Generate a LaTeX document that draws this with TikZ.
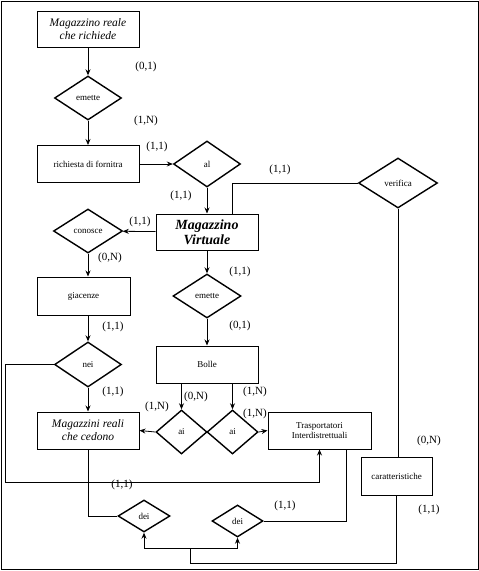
\documentclass[tikz,border=0pt]{standalone}
\usepackage{fontspec}
\setmainfont{Liberation Serif}
\usetikzlibrary{shapes.geometric,arrows.meta}

\begin{document}
\begin{tikzpicture}[x=1pt,y=-1pt,line width=0.8pt,
    >={Stealth[length=6pt,width=5pt]},
    ent/.style={draw,line width=1pt,inner sep=1pt,align=center,
        minimum width=102pt,minimum height=37pt,font=\fontsize{9}{10.5}\selectfont},
    entit/.style={ent,font=\fontsize{11.5}{13}\selectfont\itshape},
    rel/.style={draw,diamond,line width=1.4pt,inner sep=0pt,
        minimum width=67pt,minimum height=44pt,font=\fontsize{9}{10}\selectfont},
    card/.style={inner sep=0pt,font=\fontsize{11}{12}\selectfont}]

    \useasboundingbox (0,0) rectangle (479,571);
    \draw (1,1) rectangle (478,569);

    % Entita
    \node[entit,minimum height=36pt] (richiede) at (88,29) {Magazzino reale\\che richiede};
    \node[ent] (richiesta) at (88,164) {richiesta di fornitra};
    \node[ent,minimum height=36pt,font=\fontsize{14}{15}\selectfont\bfseries\itshape] (virtuale) at (207,232) {Magazzino\\Virtuale};
    \node[ent,minimum width=93pt,minimum height=38pt] (giacenze) at (83.5,296) {giacenze};
    \node[ent] (bolle) at (207,364.5) {Bolle};
    \node[entit] (cedono) at (88,430.5) {Magazzini reali\\che cedono};
    \node[ent,minimum width=103pt] (trasp) at (319.5,430.5) {Trasportatori\\Interdistrettuali};
    \node[ent,minimum width=71pt,minimum height=38pt] (caratt) at (396.5,476) {caratteristiche};

    % Relazioni
    \node[rel] (emette1) at (88,98) {emette};
    \node[rel,minimum height=46pt] (al) at (207,164) {al};
    \node[rel,minimum width=79pt,minimum height=50pt] (verifica) at (398,183) {verifica};
    \node[rel,minimum width=69pt] (conosce) at (88,231) {conosce};
    \node[rel,minimum width=68pt] (emette2) at (207,296) {emette};
    \node[rel,minimum height=45pt] (nei) at (88,364.5) {nei};
    \node[rel,minimum width=51pt] (ai1) at (181.5,432) {ai};
    \node[rel,minimum width=51pt] (ai2) at (232.5,432) {ai};
    \node[rel,minimum width=52pt,minimum height=32pt] (dei1) at (144,516) {dei};
    \node[rel,minimum width=51pt,minimum height=32pt] (dei2) at (237.5,521) {dei};

    % Punti di giunzione
    \coordinate (giro) at (5,482);
    \coordinate (fondo) at (190,563);
    \coordinate (bivio) at (190,548);

    % Collegamenti
    \draw[->] (richiede) -- (emette1);
    \draw[->] (emette1) -- (richiesta);
    \draw[->] (richiesta) -- (al);
    \draw[->] (al) -- (virtuale);
    \draw ([xshift=-26pt]virtuale.north east) |- (verifica.west);
    \draw (verifica.south) -- (verifica.south |- caratt.north);
    \draw[->] (virtuale) -- (conosce);
    \draw[->] (conosce.south) -- (conosce.south |- giacenze.north);
    \draw[->] (nei.north |- giacenze.south) -- (nei.north);
    \draw[->] (virtuale) -- (emette2);
    \draw[->] (emette2) -- (bolle);
    \draw[->] (ai1.north |- bolle.south) -- (ai1.north);
    \draw[->] (ai2.north |- bolle.south) -- (ai2.north);
    \draw[->] (ai1.west) -- (cedono.east);
    \draw[->] (ai2.east) -- (trasp.west);
    \draw[->] (nei) -- (cedono);
    \draw[->] (nei.west) -| (giro) -| (trasp.south);
    \draw (cedono.south) |- (dei1.west);
    \draw (dei2.east) -| ([xshift=27pt]trasp.south);
    \draw (caratt.south) |- (fondo) -- (bivio);
    \draw[->] (bivio) -| (dei1.south);
    \draw[->] (bivio) -| (dei2.south);

    % Cardinalita
    \node[card] (k1) at (146,67) {(0,1)};
    \node[card] (k2) at (146,121) {(1,N)};
    \node[card] (k3) at (157,147) {(1,1)};
    \node[card] (k4) at (181,196) {(1,1)};
    \node[card] (k5) at (280,170) {(1,1)};
    \node[card] (k6) at (140,222) {(1,1)};
    \node[card] (k7) at (110,258) {(0,N)};
    \node[card] (k8) at (240,272) {(1,1)};
    \node[card] (k9) at (113,327) {(1,1)};
    \node[card] (k10) at (240,326) {(0,1)};
    \node[card] (k11) at (113,392) {(1,1)};
    \node[card] (k12) at (196,397) {(0,N)};
    \node[card] (k13) at (255,392) {(1,N)};
    \node[card] (k14) at (157,407) {(1,N)};
    \node[card] (k15) at (255,414) {(1,N)};
    \node[card] (k16) at (122,485) {(1,1)};
    \node[card] (k17) at (285,506) {(1,1)};
    \node[card] (k18) at (429,441) {(0,N)};
    \node[card] (k19) at (429,510) {(1,1)};
\end{tikzpicture}
\end{document}
